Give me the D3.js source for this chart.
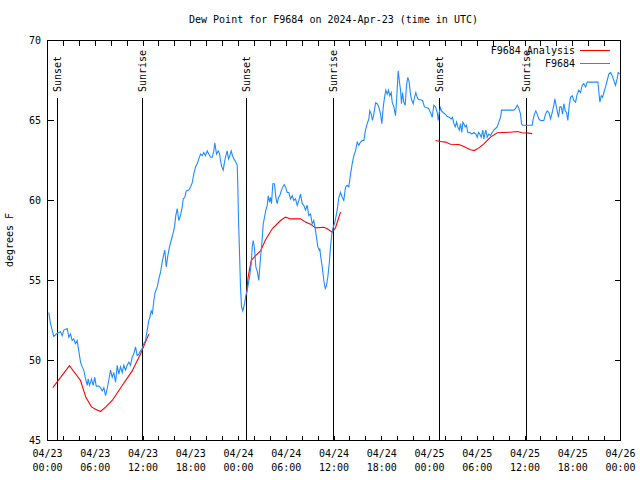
<!DOCTYPE html>
<html>
<head>
<meta charset="utf-8">
<script src="https://cdn.jsdelivr.net/npm/d3@7"></script>
<style>
  body { margin: 0; background: #fff; }
  svg { display: block; }
  text { font-family: "DejaVu Sans Mono", monospace; font-size: 10px; fill: #000; }
</style>
</head>
<body>
<div id="chart"></div>
<script>
// hours since 2024-04-23 00:00 UTC, dew point in F
const obs = [
  [0.16,53.0],[0.38,52.3],[0.79,51.5],[1.22,51.7],[1.63,51.8],[1.85,51.55],[2.05,51.9],[2.48,52.0],[2.68,51.45],[2.89,51.65],
  [3.10,51.25],[3.30,51.35],[3.52,51.05],[3.73,51.25],[3.93,50.6],[4.15,49.9],[4.36,49.6],[4.56,49.4],[4.78,48.85],[4.99,48.45],
  [5.11,48.85],[5.28,48.45],[5.53,48.85],[5.74,48.45],[5.94,48.95],[6.12,48.4],[6.45,48.4],[6.66,48.3],[6.87,48.1],[7.08,48.3],
  [7.29,47.8],[7.50,48.25],[7.70,48.75],[7.92,49.4],[8.13,48.95],[8.33,49.25],[8.55,48.65],[8.76,49.7],[8.96,49.15],[9.17,49.6],
  [9.39,49.25],[9.59,49.7],[9.80,49.4],[10.02,49.7],[10.22,49.9],[10.43,49.7],[10.64,50.2],[10.84,50.4],[11.06,50.85],[11.27,50.3],
  [11.47,50.4],[11.69,50.6],[11.90,50.75],[12.10,51.05],[12.32,51.25],[12.53,51.9],[12.73,52.5],[12.86,52.7],[13.03,53.1],[13.19,52.95],
  [13.36,53.75],[13.53,54.25],[13.79,54.6],[13.99,55.1],[14.20,55.5],[14.41,56.15],[14.61,56.65],[14.74,56.9],[14.92,55.85],[15.12,56.55],
  [15.33,57.1],[15.54,57.5],[15.75,57.9],[15.96,58.35],[16.12,59.05],[16.30,59.5],[16.50,58.75],[16.71,59.05],[16.93,59.6],[17.05,60.1],
  [17.25,60.2],[17.43,60.6],[17.76,60.65],[17.97,60.85],[18.18,61.1],[18.38,61.65],[18.60,62.1],[18.81,62.3],[19.01,62.6],[19.23,62.9],
  [19.44,62.8],[19.64,63.0],[19.85,62.8],[20.07,63.1],[20.27,62.9],[20.48,62.7],[20.70,62.7],[20.90,63.1],[21.02,63.6],[21.24,62.9],
  [21.45,63.1],[21.61,62.95],[21.74,62.5],[21.90,62.1],[22.08,61.9],[22.24,62.4],[22.41,62.8],[22.58,63.1],[22.74,62.6],[22.91,62.8],
  [23.08,63.1],[23.25,62.8],[23.41,62.6],[23.62,62.45],[23.84,62.2],[23.91,61.05],[24.00,58.85],[24.13,56.7],[24.25,54.6],[24.38,53.35],
  [24.54,53.1],[24.76,53.55],[24.92,54.05],[25.10,54.4],[25.17,54.6],[25.38,55.2],[25.60,56.05],[25.72,57.1],[25.85,57.5],[26.01,57.0],
  [26.18,55.85],[26.35,55.6],[26.55,55.0],[26.77,56.45],[26.93,57.3],[27.11,58.55],[27.27,58.95],[27.43,59.4],[27.61,59.7],[27.73,60.3],
  [27.90,59.9],[28.02,60.2],[28.15,59.8],[28.31,61.05],[28.52,61.05],[28.69,60.2],[28.86,59.8],[29.03,60.2],[29.19,60.3],[29.37,60.6],
  [29.57,60.85],[29.74,61.0],[29.91,60.85],[30.12,60.5],[30.32,60.5],[30.54,60.1],[30.75,60.3],[30.95,60.0],[31.16,60.1],[31.38,59.7],
  [31.58,60.0],[31.79,60.4],[32.01,59.8],[32.21,59.7],[32.42,59.4],[32.63,59.7],[32.84,59.05],[33.05,59.15],[33.26,58.55],[33.46,58.75],
  [33.68,58.1],[33.80,57.7],[33.97,57.1],[34.14,56.9],[34.22,57.0],[34.34,56.45],[34.52,55.85],[34.72,55.0],[34.90,54.5],[35.06,54.7],
  [35.22,55.2],[35.40,56.05],[35.56,57.1],[35.73,57.9],[35.90,58.35],[36.07,58.55],[36.23,58.95],[36.40,59.4],[36.61,60.2],[36.82,60.5],
  [37.03,60.2],[37.23,60.0],[37.45,60.85],[37.66,60.95],[37.86,60.85],[38.08,61.65],[38.29,62.3],[38.49,62.8],[38.70,63.1],[38.92,63.65],
  [39.12,63.45],[39.33,63.65],[39.54,63.75],[39.75,63.75],[39.96,64.4],[40.17,64.8],[40.38,65.1],[40.50,65.6],[40.68,65.4],[40.84,65.0],
  [41.00,65.4],[41.22,66.1],[41.43,66.05],[41.63,65.85],[41.85,65.4],[42.01,64.8],[42.19,65.85],[42.35,66.45],[42.51,66.9],[42.69,66.65],
  [42.85,66.9],[43.01,66.55],[43.19,66.75],[43.31,66.15],[43.52,65.85],[43.73,65.3],[43.86,66.25],[43.98,67.3],[44.07,68.1],[44.20,67.5],
  [44.36,66.9],[44.48,66.05],[44.61,66.75],[44.77,66.15],[44.95,65.95],[45.11,67.2],[45.28,67.7],[45.45,67.4],[45.61,66.65],[45.78,66.25],
  [45.95,66.05],[46.12,66.45],[46.28,66.75],[46.46,66.45],[46.62,66.3],[46.87,66.3],[47.12,66.25],[47.37,65.85],[47.63,65.8],[47.88,65.75],
  [48.13,65.5],[48.34,65.2],[48.54,65.95],[48.76,65.85],[48.97,65.5],[49.10,65.0],[49.22,65.5],[49.38,65.8],[49.51,65.6],[49.72,65.5],
  [49.97,65.4],[50.23,65.25],[50.48,65.2],[50.73,65.1],[50.89,65.2],[51.06,64.8],[51.23,64.6],[51.40,64.9],[51.56,64.6],[51.74,64.4],
  [51.90,64.8],[52.06,64.25],[52.19,64.9],[52.31,64.8],[52.49,64.6],[52.65,64.7],[52.82,64.25],[53.07,64.25],[53.32,64.15],[53.57,64.25],
  [53.82,64.15],[54.00,63.95],[54.16,64.25],[54.32,64.15],[54.50,63.95],[54.70,64.4],[54.83,63.85],[54.95,64.15],[55.08,64.4],[55.25,63.95],
  [55.45,64.15],[55.67,64.05],[55.88,64.25],[56.08,64.4],[56.30,64.5],[56.51,64.6],[56.71,64.9],[56.93,65.2],[57.05,65.65],[58.60,65.65],
  [58.81,65.75],[59.02,65.95],[59.23,65.75],[59.44,65.4],[59.56,64.8],[59.69,64.7],[60.91,64.7],[61.03,65.1],[61.20,65.4],[61.36,65.6],
  [61.54,65.4],[61.74,65.1],[61.95,65.0],[62.37,65.0],[62.58,65.4],[62.79,65.6],[63.00,65.5],[63.21,65.1],[63.42,65.5],[63.62,65.95],
  [63.75,66.35],[63.87,66.05],[64.05,65.6],[64.21,65.2],[64.38,65.85],[64.55,65.85],[64.72,65.4],[64.88,66.05],[65.06,65.6],[65.22,65.5],
  [65.38,65.0],[65.56,65.95],[65.72,66.45],[65.93,66.55],[66.14,66.25],[66.35,66.15],[66.56,66.65],[66.76,66.9],[66.98,66.75],[67.19,67.2],
  [67.39,67.3],[67.61,67.1],[67.82,67.4],[69.16,67.4],[69.29,66.75],[69.41,66.15],[69.58,66.55],[69.74,66.45],[69.91,66.75],[70.12,67.1],
  [70.33,67.5],[70.53,67.9],[70.74,68.0],[70.96,67.8],[71.16,67.5],[71.37,67.2],[71.58,67.6],[71.71,68.0],[71.92,67.9]
];

// analysis, three separate runs
const analysisDay1 = [
  [0.67,48.3],[2.76,49.67],[4.15,48.75],[4.82,47.7],[5.53,47.1],[6.03,46.95],[6.66,46.81],[7.29,47.08],
  [8.13,47.5],[9.39,48.44],[10.64,49.35],[11.69,50.4],[12.73,51.65]
];
const analysisDay2 = [
  [25.03,54.2],[25.2,55.2],[25.6,56.25],[26.14,56.56],[26.77,56.85],[27.4,57.55],[28.24,58.23],[29.28,58.75],
  [29.91,58.96],[30.54,58.85],[31.79,58.85],[32.42,58.65],[33.05,58.52],[33.68,58.29],[34.72,58.33],[35.15,58.23],
  [35.78,58.02],[36.19,58.3],[36.48,58.75],[36.82,59.27]
];
const analysisDay3 = [
  [48.76,63.75],[49.39,63.69],[50.02,63.65],[50.64,63.52],[51.69,63.5],[52.31,63.38],[53.15,63.17],[53.65,63.12],
  [54.2,63.29],[54.83,63.54],[55.67,63.96],[56.51,64.23],[58.18,64.27],[59.02,64.31],[59.65,64.23],[60.48,64.21],[60.91,64.17]
];

const sunHours = [1.26, 12.06, 25.13, 36.06, 49.38, 60.3];
const sunNames = ["Sunset", "Sunrise", "Sunset", "Sunrise", "Sunset", "Sunrise"];

const dayLabels = ["04/23","04/23","04/23","04/23","04/24","04/24","04/24","04/24","04/25","04/25","04/25","04/25","04/26"];
const hourLabels = ["00:00","06:00","12:00","18:00","00:00","06:00","12:00","18:00","00:00","06:00","12:00","18:00","00:00"];
const yTicks = [45, 50, 55, 60, 65, 70];

const width = 640, height = 480;
const plotL = 47, plotR = 620, plotT = 40, plotB = 440;

const svg = d3.select("#chart").append("svg")
  .attr("width", width)
  .attr("height", height);

const x = d3.scaleLinear().domain([0, 72]).range([plotL + 0.5, plotR + 0.5]);
const y = d3.scaleLinear().domain([45, 70]).range([plotB + 0.5, plotT + 0.5]);

svg.append("text")
  .attr("x", (plotL + plotR) / 2)
  .attr("y", 23)
  .attr("text-anchor", "middle")
  .text("Dew Point for F9684 on 2024-Apr-23 (time in UTC)");

// ticks on all four sides, pointing inward
const xTickVals = d3.range(0, 73, 2);
const ticks = svg.append("g").attr("stroke", "#000").attr("shape-rendering", "crispEdges");
xTickVals.forEach(h => {
  ticks.append("line").attr("x1", x(h)).attr("x2", x(h)).attr("y1", plotB + 0.5).attr("y2", plotB - 4.5);
  ticks.append("line").attr("x1", x(h)).attr("x2", x(h)).attr("y1", plotT + 0.5).attr("y2", plotT + 5.5);
});
yTicks.forEach(v => {
  ticks.append("line").attr("x1", plotL + 0.5).attr("x2", plotL + 6.5).attr("y1", y(v)).attr("y2", y(v));
  ticks.append("line").attr("x1", plotR + 0.5).attr("x2", plotR - 5.5).attr("y1", y(v)).attr("y2", y(v));
});

const labelHours = d3.range(0, 73, 6);
const xl = svg.append("g");
labelHours.forEach((h, i) => {
  const t = xl.append("text").attr("text-anchor", "middle");
  t.append("tspan").attr("x", x(h)).attr("y", 457).text(dayLabels[i]);
  t.append("tspan").attr("x", x(h)).attr("y", 471).text(hourLabels[i]);
});

svg.append("g").selectAll("text")
  .data(yTicks)
  .enter()
  .append("text")
  .attr("x", 41)
  .attr("y", d => y(d) + 3.5)
  .attr("text-anchor", "end")
  .text(d => d);

svg.append("text")
  .attr("transform", "translate(13,240) rotate(-90)")
  .attr("text-anchor", "middle")
  .text("degrees F");

// sunrise / sunset markers
sunHours.forEach((h, i) => {
  svg.append("line")
    .attr("x1", Math.round(x(h)) - 0.5).attr("x2", Math.round(x(h)) - 0.5)
    .attr("y1", 98).attr("y2", plotB)
    .attr("stroke", "#000")
    .attr("shape-rendering", "crispEdges");
  svg.append("text")
    .attr("transform", `translate(${Math.round(x(h)) + 3},92) rotate(-90)`)
    .attr("text-anchor", "start")
    .text(sunNames[i]);
});

const line = d3.line().x(d => x(d[0])).y(d => y(d[1]));

[analysisDay1, analysisDay2, analysisDay3].forEach(seg => {
  svg.append("path")
    .datum(seg)
    .attr("d", line)
    .attr("fill", "none")
    .attr("stroke", "#ff0000")
    .attr("stroke-width", 1.1);
});

svg.append("path")
  .datum(obs)
  .attr("d", line)
  .attr("fill", "none")
  .attr("stroke", "#1e8cff")
  .attr("stroke-width", 1.1);

// legend
const legend = [["F9684 Analysis", "#ff0000"], ["F9684", "#1e8cff"]];
legend.forEach((d, i) => {
  const ly = 50 + i * 13;
  svg.append("text")
    .attr("x", 575).attr("y", ly + 3.5)
    .attr("text-anchor", "end")
    .text(d[0]);
  svg.append("line")
    .attr("x1", 580).attr("x2", 610)
    .attr("y1", ly + 0.5).attr("y2", ly + 0.5)
    .attr("stroke", d[1])
    .attr("shape-rendering", "crispEdges");
});

// frame
svg.append("rect")
  .attr("x", plotL + 0.5).attr("y", plotT + 0.5)
  .attr("width", plotR - plotL).attr("height", plotB - plotT)
  .attr("fill", "none")
  .attr("stroke", "#000")
  .attr("shape-rendering", "crispEdges");
</script>
</body>
</html>
